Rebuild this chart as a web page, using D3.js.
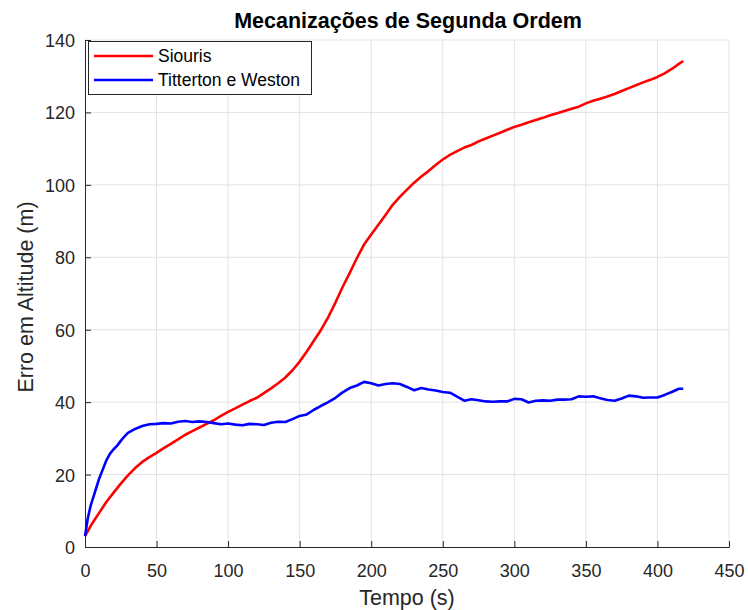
<!DOCTYPE html>
<html>
<head>
<meta charset="utf-8">
<script src="https://cdn.jsdelivr.net/npm/d3@7"></script>
<style>
  html, body { margin: 0; padding: 0; background: #fff; }
  svg { display: block; font-family: "Liberation Sans", Arial, Helvetica, sans-serif; }
</style>
</head>
<body>
<script>
// Altitude error for the two second-order mechanizations
const siourisTime = [0,5,10,15,20,25,30,35,40,45,50,55,60,65,70,75,80,85,90,95,100,105,110,115,120,125,130,135,140,145,150,155,160,165,170,175,180,185,190,195,200,205,210,215,220,225,230,235,240,245,250,255,260,265,270,275,280,285,290,295,300,305,310,315,320,325,330,335,340,345,350,355,360,365,370,375,380,385,390,395,400,405,410,415,418];
const siourisError = [3,6.5,9.5,12.5,15,17.5,19.8,21.8,23.5,24.8,26,27.3,28.5,29.7,31,32,33,34,35,36.2,37.3,38.3,39.3,40.3,41.2,42.5,43.8,45.2,46.8,48.8,51.2,54,57,60,63.5,67.5,71.8,75.7,79.8,83.5,86.3,89,91.7,94.5,96.7,98.7,100.6,102.3,103.8,105.5,107,108.3,109.3,110.3,111,112,112.8,113.6,114.4,115.2,116,116.6,117.3,117.9,118.5,119.2,119.8,120.4,121,121.6,122.5,123.2,123.8,124.4,125.1,125.9,126.7,127.5,128.3,129,129.8,130.8,132,133.4,134.2];

const tittertonTime = [0,2,4,6,8,10,12.5,15,17.5,20,22.5,25,27.5,30,35,40,45,50,55,60,65,70,75,80,85,90,95,100,105,110,115,120,125,130,135,140,145,150,155,160,165,170,175,180,185,190,195,200,205,210,215,220,225,230,235,240,245,250,255,260,265,270,275,280,285,290,295,300,305,310,315,320,325,330,335,340,345,350,355,360,365,370,375,380,385,390,395,400,405,410,415,418];
const tittertonError = [3,8,11.5,14,16.5,19,21.5,24,25.8,27,28,29.3,30.5,31.5,32.6,33.4,33.9,34,34.2,34.1,34.6,34.8,34.5,34.7,34.5,34.2,33.9,34.1,33.8,33.6,34,33.9,33.7,34.3,34.6,34.5,35.3,36.2,36.6,37.9,39,40,41.2,42.7,43.9,44.6,45.6,45.2,44.6,45,45.2,45,44.2,43.3,43.9,43.5,43.2,42.8,42.6,41.5,40.4,40.8,40.5,40.2,40.1,40.2,40.2,40.9,40.8,39.9,40.4,40.5,40.4,40.7,40.7,40.8,41.6,41.5,41.6,41.1,40.6,40.4,41,41.8,41.6,41.2,41.3,41.3,42,42.8,43.7,43.7];

const xTicks = [0,50,100,150,200,250,300,350,400,450];
const yTicks = [0,20,40,60,80,100,120,140];
const seriesNames = ["Siouris", "Titterton e Weston"];
const seriesColors = ["#ff0000", "#0000ff"];

const W = 748, H = 610;
const m = { left: 85, right: 19, top: 40, bottom: 63 };
const axisColor = "#262626";
const fontStack = "'Liberation Sans', Arial, Helvetica, sans-serif";

const svg = d3.select("body").append("svg").attr("width", W).attr("height", H);

const x = d3.scaleLinear().domain([0, 450]).range([m.left, W - m.right]);
const y = d3.scaleLinear().domain([0, 140]).range([H - m.bottom, m.top]);

// grid
const grid = svg.append("g");
grid.selectAll("line.gx").data(xTicks.slice(1)).join("line")
  .attr("x1", d => x(d)).attr("x2", d => x(d))
  .attr("y1", y(0)).attr("y2", y(140))
  .attr("stroke", "#e3e3e3").attr("stroke-width", 1);
grid.selectAll("line.gy").data(yTicks.slice(1)).join("line")
  .attr("x1", x(0)).attr("x2", x(450))
  .attr("y1", d => y(d)).attr("y2", d => y(d))
  .attr("stroke", "#e3e3e3").attr("stroke-width", 1);

// axes
const xAxis = d3.axisBottom(x).tickValues(xTicks).tickSizeInner(-6).tickSizeOuter(0).tickPadding(17);
const yAxis = d3.axisLeft(y).tickValues(yTicks).tickSizeInner(-6).tickSizeOuter(0).tickPadding(10);

const gx = svg.append("g").attr("transform", `translate(0,${y(0)})`).call(xAxis);
const gy = svg.append("g").attr("transform", `translate(${x(0)},0)`).call(yAxis);
[gx, gy].forEach(g => {
  g.select(".domain").attr("stroke", axisColor).attr("stroke-width", 1);
  g.selectAll(".tick line").attr("stroke", axisColor);
  g.selectAll(".tick text").attr("fill", axisColor)
    .style("font-size", "18px").style("font-family", fontStack);
});
gy.selectAll(".tick text").attr("dy", "0.36em");

// lines
const line = d3.line().x(d => x(d[0])).y(d => y(d[1]));
const siouris = siourisTime.map((t, i) => [t, siourisError[i]]);
const titterton = tittertonTime.map((t, i) => [t, tittertonError[i]]);

svg.append("path").datum(siouris).attr("d", line)
  .attr("fill", "none").attr("stroke", seriesColors[0]).attr("stroke-width", 2.6)
  .attr("stroke-linejoin", "round");
svg.append("path").datum(titterton).attr("d", line)
  .attr("fill", "none").attr("stroke", seriesColors[1]).attr("stroke-width", 2.6)
  .attr("stroke-linejoin", "round");

// title and axis labels
svg.append("text").attr("x", 408).attr("y", 28).attr("text-anchor", "middle")
  .attr("fill", "#000").style("font-size", "21.5px").style("font-weight", "bold")
  .text("Mecanizações de Segunda Ordem");
svg.append("text").attr("x", 407).attr("y", 605).attr("text-anchor", "middle")
  .attr("fill", axisColor).style("font-size", "21.5px").text("Tempo (s)");
svg.append("text").attr("transform", "translate(33,297) rotate(-90)").attr("text-anchor", "middle")
  .attr("fill", axisColor).style("font-size", "21.5px").text("Erro em Altitude (m)");

// legend
const lg = svg.append("g");
lg.append("rect").attr("x", 88.5).attr("y", 41.5).attr("width", 223).attr("height", 53)
  .attr("fill", "#fff").attr("stroke", axisColor).attr("stroke-width", 1);
seriesNames.forEach((name, i) => {
  const cy = 56 + i * 24;
  lg.append("line").attr("x1", 94).attr("x2", 153).attr("y1", cy).attr("y2", cy)
    .attr("stroke", seriesColors[i]).attr("stroke-width", 2.6);
  lg.append("text").attr("x", 158).attr("y", cy).attr("dy", "0.35em")
    .attr("fill", "#000").style("font-size", "17.5px").text(name);
});
</script>
</body>
</html>
